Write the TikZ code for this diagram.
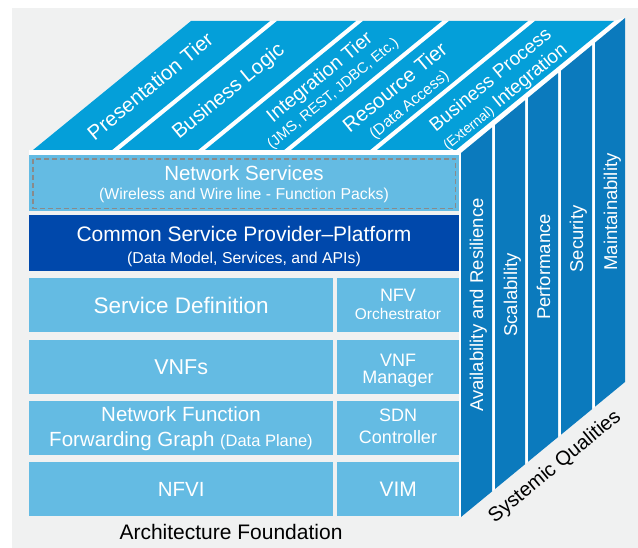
\documentclass[tikz,border=0pt]{standalone}
\usepackage{fontspec}
\setmainfont{Liberation Sans}
\usetikzlibrary{positioning}
\definecolor{bggray}{RGB}{240,241,241}
\definecolor{topblue}{RGB}{4,159,217}
\definecolor{sideblue}{RGB}{11,122,189}
\definecolor{lightblue}{RGB}{100,187,227}
\definecolor{darkblue}{RGB}{0,72,171}
\definecolor{dashgray}{RGB}{138,138,138}
\newcommand{\fsz}[1]{\fontsize{#1}{#1}\selectfont}

\begin{document}
\begin{tikzpicture}[x=1pt,y=-1pt,
	lightbox/.style={fill=lightblue,anchor=north west,minimum height=54pt},
	darkbox/.style={fill=darkblue,anchor=north west,minimum height=56pt,minimum width=430pt},
	boxtext/.style={anchor=base},
	toptext/.style={rotate=39.5,align=center,font=\fsz{20.5}},
	sidetext/.style={rotate=90,anchor=base,font=\fsz{18.5}},
	toptier/.style={fill=topblue},
	sidetier/.style={fill=sideblue}]
	\tikzstyle{every node}+=[inner sep=0pt,text=white]
	\useasboundingbox (0,0) rectangle (638,548);
	\fill [bggray] (12,8) rectangle (638,548);
	\fill [white] (29,150) -- (33,150) -- (191,21) -- (614,21) -- (625,18) -- (625,382) -- (461,517) -- (459,517) -- (459,155) -- (29,155) -- cycle;
	\fill [toptier] (33,150) -- (112,150) -- (270,21) -- (191,21) -- cycle;
	\fill [toptier] (119,150) -- (198,150) -- (356,21) -- (277,21) -- cycle;
	\fill [toptier] (205,150) -- (284,150) -- (442,21) -- (363,21) -- cycle;
	\fill [toptier] (291,150) -- (370,150) -- (528,21) -- (449,21) -- cycle;
	\fill [toptier] (377,150) -- (456,150) -- (614,21) -- (535,21) -- cycle;
	\node [toptext] (tierpres) at (150,86) {Presentation Tier};
	\node [toptext] (tierlogic) at (229,92) {Business Logic};
	\node [toptext,font=\fsz{19.5}] (tierint) at (326,85) {Integration Tier\\{\fsz{14.7}(JMS, REST, JDBC, Etc.)}};
	\node [toptext] (tierres) at (402,96) {Resource Tier\\{\fsz{15.5}(Data Access)}};
	\node [toptext,font=\fsz{19}] (tierbp) at (498,89) {Business Process\\[3pt]{\fsz{14}(External)} Integration};
	\fill [sidetier] (461,153) -- (492,127.5) -- (492,491.5) -- (461,517) -- cycle;
	\fill [sidetier] (495,125) -- (525,100.3) -- (525,464.3) -- (495,489) -- cycle;
	\fill [sidetier] (528,97.8) -- (558,73.1) -- (558,437.1) -- (528,461.8) -- cycle;
	\fill [sidetier] (561,70.7) -- (592,45.2) -- (592,409.2) -- (561,434.7) -- cycle;
	\fill [sidetier] (595,42.7) -- (625,18) -- (625,382) -- (595,406.7) -- cycle;
	\node [sidetext] (qavail) at (483,305) {Availability and Resilience};
	\node [sidetext] (qscal) at (517,295) {Scalability};
	\node [sidetext] (qperf) at (550,267) {Performance};
	\node [sidetext] (qsec) at (583,239) {Security};
	\node [sidetext] (qmaint) at (617,212) {Maintainability};
	\node [rotate=39.5,text=black,font=\fsz{20}] (sysqual) at (555,467) {Systemic Qualities};
	\node [lightbox,minimum width=430pt,minimum height=56pt] (netsvc) at (29,155) {};
	\draw [dashgray,line width=1.3pt,dash pattern=on 5pt off 3pt] ([shift={(4,4)}]netsvc.north west) rectangle ([shift={(-4,-3)}]netsvc.south east);
	\node [boxtext,font=\fsz{20.5}] (netsvcT) at (244,180.5) {Network Services};
	\node [boxtext,font=\fsz{15.8}] (netsvcS) at (244,200) {(Wireless and Wire line - Function Packs)};
	\node [darkbox] (csp) at (29,215) {};
	\node [boxtext,font=\fsz{21}] (cspT) at (244,241.5) {Common Service Provider–Platform};
	\node [boxtext,font=\fsz{15.8}] (cspS) at (244,263.5) {(Data Model, Services, and APIs)};
	\node [lightbox,minimum width=304pt,font=\fsz{22.5}] (svcdef) at (29,278) {Service Definition};
	\node [lightbox,minimum width=122pt] (nfvo) at (337,278) {};
	\node [boxtext,font=\fsz{18}] (nfvoA) at (398,302) {NFV};
	\node [boxtext,font=\fsz{15.5}] (nfvoB) at (398,320) {Orchestrator};
	\node [lightbox,minimum width=304pt,font=\fsz{21.5}] (vnfs) at (29,340) {VNFs};
	\node [lightbox,minimum width=122pt] (vnfm) at (337,340) {};
	\node [boxtext,font=\fsz{18}] (vnfmA) at (398,366.7) {VNF};
	\node [boxtext,font=\fsz{18}] (vnfmB) at (398,383.3) {Manager};
	\node [lightbox,minimum width=304pt] (nffg) at (29,401) {};
	\node [boxtext,font=\fsz{20.5}] (nffgA) at (181,421) {Network Function};
	\node [boxtext,font=\fsz{20.5}] (nffgB) at (181,446.7) {Forwarding Graph {\fsz{16.5}(Data Plane)}};
	\node [lightbox,minimum width=122pt] (sdnc) at (337,401) {};
	\node [boxtext,font=\fsz{18}] (sdncA) at (398,421.7) {SDN};
	\node [boxtext,font=\fsz{18}] (sdncB) at (398,443) {Controller};
	\node [lightbox,minimum width=304pt,font=\fsz{20.5}] (nfvi) at (29,462) {NFVI};
	\node [lightbox,minimum width=122pt,font=\fsz{21}] (vim) at (337,462) {VIM};
	\node [boxtext,text=black,font=\fsz{21}] (archfound) at (231,539) {Architecture Foundation};
\end{tikzpicture}
\end{document}
